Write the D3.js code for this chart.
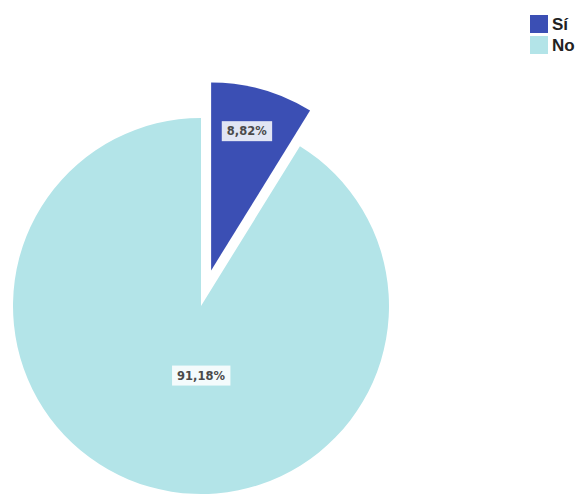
<!DOCTYPE html>
<html>
<head>
<meta charset="utf-8">
<script src="https://cdn.jsdelivr.net/npm/d3@7"></script>
<style>
  html, body { margin: 0; padding: 0; background: #fff; }
  svg { display: block; }
</style>
</head>
<body>
<script>
// data
const categories = ["Sí", "No"];
const values = [8.82, 91.18];
const labels = ["8,82%", "91,18%"];
const colors = ["#3b4fb4", "#b3e4e8"];

const width = 588, height = 500;
const cx = 201, cy = 306, radius = 188;
const explode = [37, 0];   // slice pulled out
const labelRadius = [0.77, 0.37];

const svg = d3.select("body").append("svg")
  .attr("width", width)
  .attr("height", height);

let pie = d3.pie().sort(null).value(d => d)
let slices = pie(values);

let arc = d3.arc().innerRadius(0).outerRadius(radius);

const g = svg.append("g")
  .attr("transform", `translate(${cx},${cy})`);

const slice = g.selectAll("g.slice")
  .data(slices)
  .join("g")
  .attr("class", "slice")
  .attr("transform", (d, i) => {
    const mid = (d.startAngle + d.endAngle) / 2;
    const off = explode[i];
    return `translate(${Math.sin(mid) * off},${-Math.cos(mid) * off})`;
  });

slice.append("path")
  .attr("d", arc)
  .attr("fill", (d, i) => colors[i]);

// labels with a white box behind
slice.each(function (d, i) {
  const sel = d3.select(this);
  let mid = (d.startAngle + d.endAngle) / 2;
  if (i === 1) mid = Math.PI;   // the big slice label sits straight under the centre
  const r = radius * labelRadius[i];
  const x = Math.sin(mid) * r + (i === 0 ? -4 : 0);
  const y = -Math.cos(mid) * r;
  const t = sel.append("text")
    .attr("x", x)
    .attr("y", y)
    .attr("text-anchor", "middle")
    .attr("dominant-baseline", "central")
    .style("font-family", "'DejaVu Sans', sans-serif")
    .style("font-size", "11.5px")
    .style("font-weight", "bold")
    .style("fill", "#4a4a4a")
    .text(labels[i]);
  const bb = t.node().getBBox();
  sel.insert("rect", "text")
    .attr("x", bb.x - 5)
    .attr("y", bb.y - 3)
    .attr("width", bb.width + 10)
    .attr("height", bb.height + 6)
    .attr("fill", "#fff")
    .attr("fill-opacity", 0.85);
});

// legend
const legend = svg.append("g")
  .attr("transform", "translate(530,15)")
  .selectAll("g")
  .data(categories)
  .join("g")
  .attr("transform", (d, i) => `translate(0,${i * 21})`);

legend.append("rect")
  .attr("width", 18)
  .attr("height", 18)
  .attr("fill", (d, i) => colors[i]);

legend.append("text")
  .attr("x", 22)
  .attr("y", 9)
  .attr("dominant-baseline", "central")
  .style("font-family", "'Liberation Sans', sans-serif")
  .style("font-size", "17px")
  .style("font-weight", "bold")
  .style("fill", "#222")
  .text(d => d);
</script>
</body>
</html>
